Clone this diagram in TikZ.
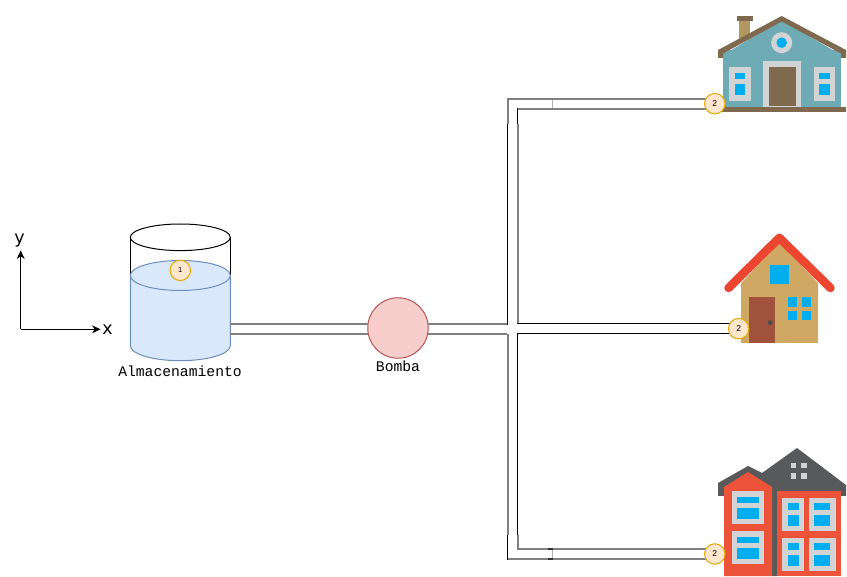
\documentclass[tikz,border=0pt]{standalone}
\usepackage{fontspec}
\setmainfont{Liberation Sans}
\newfontfamily\lblfont{Liberation Mono}
\newfontfamily\axisfont{DejaVu Sans}
\usetikzlibrary{arrows.meta}
\definecolor{teal1}{HTML}{6FABB5}
\definecolor{brown1}{HTML}{7F6A50}
\definecolor{chim}{HTML}{B29760}
\definecolor{gray1}{HTML}{D1D3D4}
\definecolor{sky}{HTML}{00AEEF}
\definecolor{sand}{HTML}{CFA963}
\definecolor{roofred}{HTML}{EC4630}
\definecolor{doorred}{HTML}{A0523D}
\definecolor{knob}{HTML}{4D4D4D}
\definecolor{brick}{HTML}{EC5338}
\definecolor{slate}{HTML}{58595B}
\definecolor{waterf}{HTML}{DAE8FC}
\definecolor{waterd}{HTML}{6C8EBF}
\definecolor{tagf}{HTML}{FFE6CC}
\definecolor{tagd}{HTML}{E0A800}
\definecolor{pumpf}{HTML}{F8CECC}
\definecolor{pumpd}{HTML}{B85450}
\definecolor{pipegray}{HTML}{808080}
\newcommand{\hrect}[5]{\fill[#1] (#2,#3) rectangle (#4,#5);}
\tikzset{
  pipe/.style={draw=black,line width=1pt},
  pipeg/.style={draw=pipegray,line width=2pt},
  tag/.style={circle,draw=tagd,fill=tagf,line width=1pt,minimum size=20.5pt,inner sep=0pt,font=\fontsize{8.5}{10}\selectfont},
  lbl/.style={inner sep=0pt,font=\lblfont\fontsize{14.7}{17}\selectfont},
  axis/.style={draw=black,line width=1pt,-{Stealth[length=8.5pt,width=8pt]}},
  axlbl/.style={inner sep=0pt,font=\axisfont\fontsize{17.5}{20}\selectfont}
}
\begin{document}
\begin{tikzpicture}[x=1pt,y=-1pt]
\useasboundingbox (0,0) rectangle (847,577);
% tank
\draw[black,fill=white,line width=1pt] (180.3,237.3) ellipse [x radius=50,y radius=13.3];
\draw[black,line width=1pt] (130.3,237.3) -- (130.3,275.5) (230.3,237.3) -- (230.3,275.5);
\draw[waterd,fill=waterf,line width=1pt] (130.3,275.5) -- (130.3,345.7) arc[start angle=180,end angle=360,x radius=50,y radius=-15] -- (230.3,275.5) arc[start angle=0,end angle=180,x radius=50,y radius=-15] -- cycle;
\draw[waterd,line width=1pt] (130.3,275.5) arc[start angle=180,end angle=360,x radius=50,y radius=-15];
\coordinate (tankA) at (230.3,324);
\coordinate (tankB) at (230.3,334);
% pump
\node[circle,draw=pumpd,fill=pumpf,line width=1pt,minimum size=60.5pt,inner sep=0pt,outer sep=0pt] (pump) at (398,328) {};
% pipe corners
\coordinate (jA) at (507,324);
\coordinate (jB) at (507,334);
\coordinate (tO) at (507,99);
\coordinate (tI) at (517,109);
\coordinate (bO) at (507,559);
\coordinate (bI) at (517,549);
\coordinate (e1a) at (706,99);
\coordinate (e1b) at (706,109);
\coordinate (e2a) at (730,323.5);
\coordinate (e2b) at (730,333.5);
\coordinate (e3a) at (706,549);
\coordinate (e3b) at (706,559);
\coordinate (uOa) at (508,98);
\coordinate (uOb) at (508,124);
\coordinate (uBa) at (507.5,124);
\coordinate (uBb) at (507.5,325);
\coordinate (uIa) at (517.5,108.5);
\coordinate (uIb) at (517.5,124);
\coordinate (uGa) at (518,124);
\coordinate (uGb) at (518,323);
\coordinate (lOa) at (508,334);
\coordinate (lOb) at (508,535);
\coordinate (lBa) at (507.5,535);
\coordinate (lBb) at (507.5,560);
\coordinate (lIa) at (517.5,333);
\coordinate (lIb) at (517.5,535);
\coordinate (lGa) at (518,535);
\coordinate (lGb) at (518,550);
\coordinate (mAa) at (517,323.5);
\coordinate (mBa) at (517,333.5);
\coordinate (k1) at (548,549);
\coordinate (k2) at (552.5,549);
\coordinate (k3) at (548,559);
\coordinate (k4) at (552.5,559);
% main line
\draw[pipeg] (tankA) -- (pump.172.4 |- tankA);
\draw[pipeg] (tankB) -- (pump.191.4 |- tankB);
\draw[pipeg] (pump.7.6 |- jA) -- (jA);
\draw[pipeg] (pump.-11.4 |- jB) -- (jB);
% branches
\draw[pipeg] (tO) -- (e1a);
\draw[pipeg] (tI) -- (e1b);
\draw[pipeg] (bI) -- (e3a);
\draw[pipeg] (bO) -- (e3b);
\draw[pipeg] (uOa) -- (uOb);
\draw[pipeg] (uGa) -- (uGb);
\draw[pipeg] (lOa) -- (lOb);
\draw[pipeg] (lGa) -- (lGb);
\draw[pipe] (uBa) -- (uBb);
\draw[pipe] (uIa) -- (uIb);
\draw[pipe] (lBa) -- (lBb);
\draw[pipe] (lIa) -- (lIb);
\draw[pipe] (mAa) -- (e2a);
\draw[pipe] (mBa) -- (e2b);
\draw[black!80,line width=2pt] (k1) -- (k2);
\draw[black!80,line width=2pt] (k3) -- (k4);
\draw[gray!60,line width=1pt] (552.5,100) -- (552.5,108) (552.5,550) -- (552.5,558);
% house 1
\hrect{teal1}{723}{50}{841}{108}
\fill[teal1] (723,55) -- (781.7,20) -- (841,55) -- cycle;
\hrect{chim}{739}{20}{750}{40}
\hrect{brown1}{737}{16}{753}{21}
\fill[brown1] (718,50) -- (781.7,16) -- (846,50) -- (846,58) -- (841,58) -- (841,53.5) -- (781.7,21.5) -- (723,53.5) -- (723,58) -- (718,58) -- cycle;
\hrect{brown1}{718}{107}{846}{112}
\fill[gray1] (781.7,42.7) circle (10.5);
\fill[sky] (781.7,42.7) circle (5.3);
\hrect{gray1}{763}{61}{801}{107}
\hrect{brown1}{769}{67}{796}{106}
\hrect{gray1}{729}{67}{751}{101}
\hrect{sky}{735}{73}{745}{79}
\hrect{sky}{735}{84}{745}{95}
\hrect{gray1}{814}{67}{835}{101}
\hrect{sky}{819}{73}{830}{79}
\hrect{sky}{819}{84}{830}{95}
% house 2
\fill[sand] (741,343) -- (741,283) -- (779.3,243) -- (818,283) -- (818,343) -- cycle;
\draw[roofred,line width=8.5pt,line cap=round,line join=round] (728.5,288) -- (779.3,237.8) -- (830.5,288);
\hrect{sky}{770}{265}{789}{284}
\hrect{doorred}{749}{297}{775}{343}
\fill[knob] (770.3,322.7) circle (2.4);
\hrect{sky}{788}{297}{797}{307}
\hrect{sky}{802}{297}{811}{307}
\hrect{sky}{788}{311}{797}{320}
\hrect{sky}{802}{311}{811}{320}
% house 3
\fill[slate] (718,496) -- (718,483) -- (748,466) -- (762,473) -- (797,448) -- (846,485) -- (846,496) -- (777,496) -- (777,576) -- (772,576) -- (772,496) -- cycle;
\fill[brick] (724,576) -- (724,487) -- (748,472) -- (772,487) -- (772,576) -- cycle;
\hrect{brick}{777}{491}{841}{576}
\hrect{gray1}{791}{463}{796}{468}
\hrect{gray1}{801}{463}{807}{468}
\hrect{gray1}{791}{473}{796}{479}
\hrect{gray1}{801}{473}{807}{479}
\hrect{gray1}{732}{491}{764}{524}
\hrect{sky}{737}{497}{759}{503}
\hrect{sky}{737}{508}{759}{519}
\hrect{gray1}{732}{531}{764}{564}
\hrect{sky}{737}{537}{759}{543}
\hrect{sky}{737}{548}{759}{559}
\hrect{gray1}{782}{498}{804}{531}
\hrect{sky}{788}{503}{799}{510}
\hrect{sky}{788}{515}{799}{526}
\hrect{gray1}{809}{498}{836}{531}
\hrect{sky}{814}{503}{830}{510}
\hrect{sky}{814}{515}{830}{526}
\hrect{gray1}{782}{538}{804}{571}
\hrect{sky}{788}{543}{799}{550}
\hrect{sky}{788}{555}{799}{566}
\hrect{gray1}{809}{538}{836}{571}
\hrect{sky}{814}{543}{830}{550}
\hrect{sky}{814}{555}{830}{566}
% tags
\node[tag] (t1) at (180.3,270.3) {\fontsize{7.5}{9}\selectfont 1};
\node[tag] (t2a) at (714.8,103.7) {2};
\node[tag] (t2b) at (738.7,328.7) {2};
\node[tag] (t2c) at (714.8,554) {2};
% labels
\node[lbl] (almacen) at (180,371) {Almacenamiento};
\node[lbl] (bomba) at (398,366) {Bomba};
% axes
\coordinate (orig) at (20.7,329.3);
\node[axlbl] (ylab) at (19.5,241) {y};
\node[axlbl] (xlab) at (107.5,330) {x};
\coordinate (ytip) at (20.7,250.5);
\coordinate (xtip) at (100.5,329.3);
\draw[axis] (orig) -- (ytip);
\draw[axis] (orig) -- (xtip);
\end{tikzpicture}
\end{document}
